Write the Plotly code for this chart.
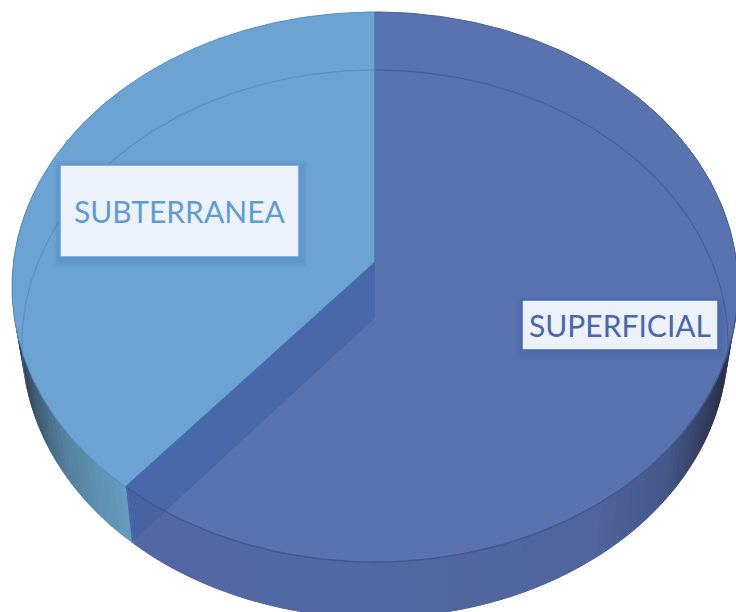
import numpy as np
import plotly.graph_objects as go

categories = ["SUPERFICIAL", "SUBTERRANEA"]
values = [61.1, 38.9]
face_colors = ["#5972B0", "#6CA3D3"]
edge_colors = ["#4A6099", "#4F8FC8"]
text_colors = ["#4668AE", "#5E9DD3"]

# projection of the pie's discs onto the page (px): apex x, apex y, y of far rim, y of near rim, half width
TOP_DISC = (375, 262, 12, 562, 363)
BOTTOM_DISC = (375, 318, 70, 618, 353)


def project(theta, disc):
    cx, cy, far, near, rx = disc
    up, down = cy - far, near - cy
    k = (down - up) / (down + up)
    b = up * (1 + k)
    a = rx * np.sqrt(1 - k * k)
    u, v = np.sin(theta), np.cos(theta)
    w = 1 + k * v
    return cx + a * u / w, cy - b * v / w


def channels(hexes):
    return np.array([[int(h[i:i + 2], 16) for i in (1, 3, 5)] for h in hexes], float)


def wall_colour(x, stops_x, stops_c):
    rgb = channels(stops_c)
    return "rgb(%d,%d,%d)" % tuple(np.interp(x, stops_x, rgb[:, i]) for i in range(3))


cut = 2 * np.pi * values[0] / sum(values)
spans = [(0.0, cut), (cut, 2 * np.pi)]

fig = go.Figure()


def poly(xs, ys, fill, line=None, width=1.0):
    fig.add_trace(go.Scatter(x=xs, y=ys, mode="lines", fill="toself", fillcolor=fill,
                             line=dict(color=line or fill, width=width),
                             hoverinfo="skip", showlegend=False))


# side wall, drawn as overlapping shaded strips so no seams show
left_x, left_c = [15, 30, 60, 100, 135], ["#2C3B4C", "#3F5A72", "#54809F", "#6093B6", "#6A9FC4"]
right_x, right_c = [130, 375, 600, 670, 710, 736], ["#5468A2", "#5268A2", "#50659C", "#46578A", "#333F60", "#252E45"]
edges = np.radians(np.arange(50, 312, 1.5))
edges = np.sort(np.append(edges, cut))
for t0, t1 in zip(edges[:-1], edges[1:]):
    left_part = t0 >= cut - 1e-9
    # light slice is painted in rising angle, dark slice is also rising: extend backward keeps later strips on top
    end = t1 + np.radians(1.5) if t1 + np.radians(1.5) <= cut or left_part else t1
    seg = np.linspace(t0, end, 4)
    xt, yt = project(seg, TOP_DISC)
    xb, yb = project(seg, BOTTOM_DISC)
    xs = np.r_[xt, xb[::-1], xt[0]]
    ys = np.r_[yt, yb[::-1], yt[0]]
    mid = project((t0 + t1) / 2, TOP_DISC)[0]
    colour = wall_colour(mid, left_x, left_c) if left_part else wall_colour(mid, right_x, right_c)
    poly(xs, ys, colour, width=0)

# top faces
for (t0, t1), fc, ec in zip(spans, face_colors, edge_colors):
    th = np.linspace(t0, t1, 200)
    xr, yr = project(th, TOP_DISC)
    ax, ay = project(0.0, TOP_DISC)[0], TOP_DISC[1]
    poly(np.r_[ax, xr, ax], np.r_[ay, yr, ay], fc, line=ec, width=1.0)

# inner cut wall seen through the translucent slice
ax0, ay0 = TOP_DISC[0], TOP_DISC[1]
ax1, ay1 = BOTTOM_DISC[0], BOTTOM_DISC[1]
xc0, yc0 = project(cut, TOP_DISC)
xc1, yc1 = project(cut, BOTTOM_DISC)
poly([ax0, ax1, xc1, xc0, ax0], [ay0, ay1, yc1, yc0, ay0], "rgba(58,94,162,0.5)", line="rgba(58,94,162,0)", width=0)

# far part of the lower disc and rim, showing faintly through
for (t0, t1), col in zip([(np.radians(-104), 0.0), (0.0, np.radians(104))], ["rgba(70,130,190,0.5)", "rgba(60,80,140,0.5)"]):
    th = np.linspace(t0, t1, 120)
    xl, yl = project(th, BOTTOM_DISC)
    fig.add_trace(go.Scatter(x=xl, y=yl, mode="lines", line=dict(color=col, width=1.2),
                             hoverinfo="skip", showlegend=False))

# near rim line and seams
th = np.linspace(np.radians(92), cut, 120)
xr, yr = project(th, TOP_DISC)
fig.add_trace(go.Scatter(x=xr, y=yr, mode="lines", line=dict(color="#44598F", width=1.3),
                         hoverinfo="skip", showlegend=False))
fig.add_trace(go.Scatter(x=[xc0, xc1], y=[yc0, yc1], mode="lines", line=dict(color="#6D94B8", width=0.8),
                         hoverinfo="skip", showlegend=False))
fig.add_trace(go.Scatter(x=[ax0, xc0], y=[ay0, yc0], mode="lines", line=dict(color="#3F78B8", width=1),
                         hoverinfo="skip", showlegend=False))
fig.add_trace(go.Scatter(x=[ax0, ax0], y=[TOP_DISC[2], ay0], mode="lines", line=dict(color="#4C73AC", width=1.2),
                         hoverinfo="skip", showlegend=False))

# labels
boxes = [(522, 300, 718, 350), (60, 165, 299, 257)]
shapes = []
for (x0, y0, x1, y1), col in zip(boxes, text_colors):
    for grow, alpha in ((7, 0.05), (5, 0.06), (3, 0.07)):
        shapes.append(dict(type="rect", x0=x0 - grow + 1, y0=y0 - grow + 3, x1=x1 + grow + 1, y1=y1 + grow + 3,
                           fillcolor=f"rgba(50,80,150,{alpha})", line=dict(width=0), layer="above"))
    shapes.append(dict(type="rect", x0=x0, y0=y0, x1=x1, y1=y1, fillcolor="#EDF1F9",
                       line=dict(color=col, width=1.5), layer="above"))

annotations = [dict(x=(b[0] + b[2]) / 2, y=(b[1] + b[3]) / 2, text=c, showarrow=False,
                    font=dict(family="Lato", size=fs, color=col), xanchor="center", yanchor="middle")
               for b, c, col, fs in zip(boxes, categories, text_colors, [30, 30])]

fig.update_layout(width=736, height=612, margin=dict(l=0, r=0, t=0, b=0),
                  paper_bgcolor="white", plot_bgcolor="white", showlegend=False,
                  xaxis=dict(range=[0, 736], visible=False, fixedrange=True),
                  yaxis=dict(range=[612, 0], visible=False, fixedrange=True),
                  shapes=shapes, annotations=annotations)

fig.write_html("out.html", config=dict(displayModeBar=False),
               post_script="document.body.style.margin='0';document.body.style.overflow='hidden';")
